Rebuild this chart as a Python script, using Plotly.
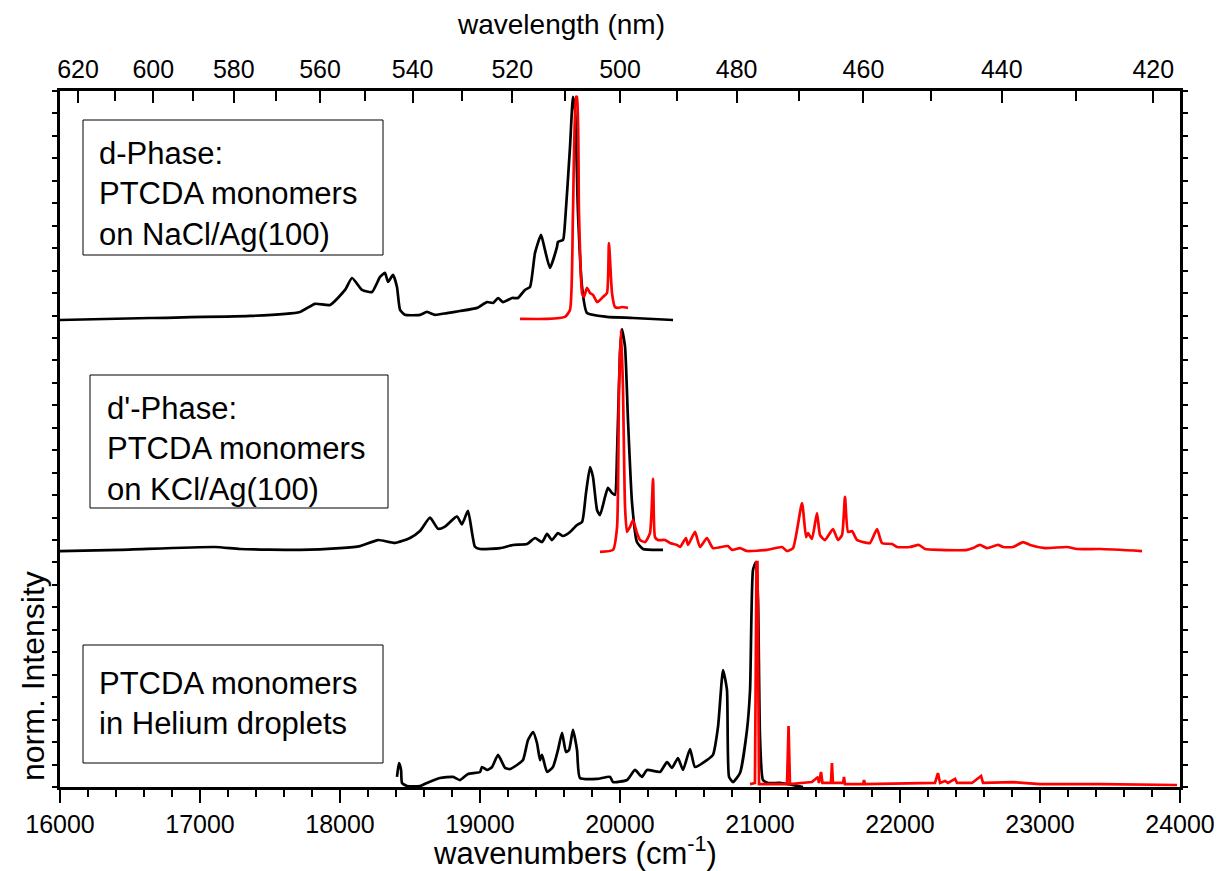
import plotly.graph_objects as go

# ---------------- data (wavenumbers in cm^-1, normalized intensity) ----------------
# d-Phase: PTCDA monomers on NaCl/Ag(100)
d_black_x = [16000, 16643, 17357, 17714, 17821, 17929, 18036, 18086, 18157, 18229, 18286, 18321, 18343,
             18379, 18407, 18429, 18464, 18571, 18621, 18679, 18764, 18857, 18979, 19050, 19093, 19129,
             19164, 19229, 19271, 19321, 19357, 19393, 19436, 19464, 19500, 19550, 19557, 19593, 19607,
             19643, 19664, 19679, 19700, 19729, 19764, 19907, 20093, 20379]
d_black_y = [0.010, 0.019, 0.028, 0.046, 0.082, 0.077, 0.144, 0.197, 0.144, 0.135, 0.202, 0.220, 0.180,
             0.211, 0.157, 0.055, 0.033, 0.033, 0.046, 0.033, 0.041, 0.050, 0.064, 0.090, 0.086, 0.108,
             0.090, 0.108, 0.108, 0.144, 0.157, 0.309, 0.389, 0.322, 0.242, 0.336, 0.358, 0.367, 0.442,
             0.781, 1.004, 0.946, 0.487, 0.157, 0.041, 0.024, 0.019, 0.010]
d_red_x = [19286, 19479, 19607, 19643, 19664, 19686, 19693, 19707, 19729, 19743, 19764, 19786, 19807,
           19836, 19857, 19879, 19907, 19921, 19943, 19964, 19986, 20014, 20057]
d_red_y = [0.015, 0.015, 0.024, 0.055, 0.487, 1.004, 1.004, 0.487, 0.130, 0.113, 0.153, 0.130, 0.122,
           0.090, 0.099, 0.113, 0.130, 0.353, 0.130, 0.068, 0.064, 0.068, 0.064]

# d'-Phase: PTCDA monomers on KCl/Ag(100)
dp_black_x = [16000, 16429, 17107, 17286, 17714, 18000, 18143, 18271, 18393, 18500, 18571, 18643, 18700,
              18750, 18836, 18871, 18914, 18964, 19000, 19143, 19236, 19336, 19393, 19443, 19479, 19514,
              19557, 19593, 19643, 19693, 19729, 19757, 19786, 19807, 19836, 19857, 19893, 19914, 19943,
              19964, 19979, 20000, 20014, 20036, 20057, 20086, 20121, 20164, 20307]
dp_black_y = [0.011, 0.016, 0.029, 0.020, 0.016, 0.024, 0.033, 0.060, 0.047, 0.069, 0.100, 0.160, 0.110,
              0.120, 0.165, 0.130, 0.190, 0.030, 0.020, 0.024, 0.038, 0.042, 0.069, 0.051, 0.087, 0.060,
              0.091, 0.078, 0.096, 0.127, 0.140, 0.269, 0.385, 0.341, 0.194, 0.171, 0.252, 0.292, 0.269,
              0.261, 0.448, 0.893, 1.000, 0.920, 0.595, 0.225, 0.051, 0.020, 0.016]
dp_red_x = [19857, 19950, 19979, 19993, 20007, 20021, 20036, 20050, 20071, 20093, 20121, 20143, 20179,
            20214, 20236, 20250, 20271, 20321, 20357, 20407, 20429, 20471, 20486, 20536, 20571, 20621,
            20664, 20771, 20800, 20857, 20907, 21050, 21157, 21193, 21236, 21300, 21329, 21343, 21371,
            21407, 21429, 21464, 21521, 21557, 21586, 21607, 21629, 21657, 21693, 21736, 21786, 21836,
            21871, 21943, 21979, 22071, 22136, 22179, 22286, 22479, 22521, 22571, 22621, 22700, 22736,
            22807, 22879, 22929, 23036, 23193, 23264, 23429, 23729]
dp_red_y = [0.007, 0.016, 0.118, 0.742, 0.996, 0.742, 0.207, 0.096, 0.118, 0.149, 0.091, 0.060, 0.051,
            0.091, 0.332, 0.073, 0.060, 0.060, 0.047, 0.038, 0.029, 0.069, 0.038, 0.096, 0.029, 0.069,
            0.024, 0.033, 0.016, 0.024, 0.011, 0.016, 0.029, 0.011, 0.024, 0.225, 0.073, 0.091, 0.065,
            0.180, 0.082, 0.060, 0.109, 0.060, 0.082, 0.252, 0.096, 0.100, 0.060, 0.051, 0.047, 0.109,
            0.047, 0.042, 0.029, 0.029, 0.038, 0.020, 0.016, 0.016, 0.024, 0.038, 0.024, 0.038, 0.029,
            0.029, 0.051, 0.038, 0.024, 0.029, 0.020, 0.020, 0.011]

# PTCDA monomers in Helium droplets
he_black_x = [18407, 18421, 18436, 18443, 18479, 18571, 18621, 18714, 18807, 18857, 18914, 19000, 19014,
              19050, 19086, 19129, 19179, 19214, 19264, 19307, 19343, 19379, 19407, 19429, 19443, 19479,
              19521, 19557, 19586, 19614, 19636, 19664, 19693, 19714, 19836, 19929, 19950, 20050, 20107,
              20157, 20193, 20286, 20336, 20371, 20414, 20450, 20500, 20536, 20621, 20664, 20700, 20736,
              20764, 20779, 20807, 20857, 20907, 20929, 20950, 20971, 20986, 21000, 21021, 21057, 21143,
              21307]
he_black_y = [0.045, 0.107, 0.076, 0.018, 0.004, 0.004, 0.018, 0.040, 0.045, 0.031, 0.058, 0.067, 0.089,
              0.076, 0.089, 0.143, 0.085, 0.080, 0.098, 0.120, 0.209, 0.245, 0.196, 0.120, 0.143, 0.067,
              0.089, 0.165, 0.241, 0.156, 0.165, 0.254, 0.165, 0.040, 0.036, 0.045, 0.022, 0.031, 0.076,
              0.045, 0.076, 0.067, 0.111, 0.085, 0.129, 0.076, 0.169, 0.089, 0.120, 0.143, 0.267, 0.521,
              0.432, 0.045, 0.022, 0.062, 0.254, 0.432, 0.967, 1.002, 0.833, 0.223, 0.031, 0.018, 0.018,
              0.000]
he_red_x = [20929, 20964, 20975, 20982, 20993, 21193, 21204, 21214, 21371, 21414, 21421, 21436, 21446,
            21507, 21514, 21521, 21593, 21600, 21607, 21736, 21743, 21750, 22250, 22271, 22286, 22321,
            22343, 22393, 22407, 22514, 22579, 22593, 22807, 23000, 23429, 23979]
he_red_y = [0.013, 0.018, 1.002, 1.002, 0.013, 0.013, 0.272, 0.013, 0.022, 0.045, 0.018, 0.067, 0.018,
            0.018, 0.107, 0.018, 0.018, 0.045, 0.013, 0.013, 0.031, 0.013, 0.018, 0.062, 0.018, 0.027,
            0.018, 0.036, 0.018, 0.018, 0.049, 0.018, 0.022, 0.013, 0.013, 0.009]

# vertical offsets of the stacked spectra
offset_he, offset_dp, offset_d = 0.0, 1.04, 2.07

# top-axis wavelength ticks (nm)
wl_major = [620, 600, 580, 560, 540, 520, 500, 480, 460, 440, 420]
wl_minor = [610, 590, 570, 550, 530, 510, 490, 470, 450, 430]

box_texts = ["d-Phase:<br>PTCDA monomers<br>on NaCl/Ag(100)",
             "d'-Phase:<br>PTCDA monomers<br>on KCl/Ag(100)",
             "PTCDA monomers<br>in Helium droplets"]

# ---------------- figure ----------------
FONT = "Arial, Liberation Sans, sans-serif"
W, H = 1225, 871
L, T, R, B = 60, 91, 45, 84
PW, PH = W - L - R, H - T - B


def px(x):  # page pixel x -> paper
    return (x - L) / PW


def py(y):  # page pixel y -> paper
    return (H - B - y) / PH


fig = go.Figure()


def add(xs, ys, off, color, smooth=True):
    line = dict(color=color, width=2.7)
    if smooth:
        line.update(shape="spline", smoothing=0.5)
    fig.add_trace(go.Scatter(x=xs, y=[v + off for v in ys], mode="lines", line=line,
                             showlegend=False, hoverinfo="skip"))


add(d_black_x, d_black_y, offset_d, "black")
add(d_red_x, d_red_y, offset_d, "#ff0000")
add(dp_black_x, dp_black_y, offset_dp, "black")
add(dp_red_x, dp_red_y, offset_dp, "#ff0000")
add(he_black_x, he_black_y, offset_he, "black")
add(he_red_x, he_red_y, offset_he, "#ff0000", smooth=False)

# dummy trace so the top axis is drawn
fig.add_trace(go.Scatter(x=[16000, 24000], y=[None, None], xaxis="x2", mode="lines",
                         showlegend=False, hoverinfo="skip"))

fig.update_layout(
    width=W, height=H,
    margin=dict(l=L, r=R, t=T, b=B, autoexpand=False),
    paper_bgcolor="white", plot_bgcolor="white",
    font=dict(family=FONT, color="black"),
    xaxis=dict(range=[16000, 24000], showline=True, linecolor="black", linewidth=2.5, automargin=False,
               ticks="outside", ticklen=13, tickwidth=2, tickcolor="black", tickformat="d",
               dtick=1000, tick0=16000, tickfont=dict(size=25), showgrid=False, zeroline=False,
               minor=dict(ticks="outside", dtick=200, ticklen=7, tickwidth=2, tickcolor="black"),
               mirror=False),
    xaxis2=dict(range=[16000, 24000], overlaying="x", side="top", showline=True, linecolor="black",
                linewidth=2.5, ticks="inside", ticklen=12, tickwidth=2, tickcolor="black", automargin=False,
                tickmode="array", tickvals=[1e7 / w for w in wl_major], ticktext=[str(w) for w in wl_major],
                tickfont=dict(size=25), showgrid=False, zeroline=False,
                minor=dict(ticks="inside", tickvals=[1e7 / w for w in wl_minor], ticklen=10,
                           tickwidth=2, tickcolor="black")),
    yaxis=dict(range=[0, 3.1], showline=True, linecolor="black", linewidth=2.5, mirror="ticks",
               ticks="outside", ticklen=5, tickwidth=1.5, tickcolor="black", dtick=0.1, tick0=0,
               automargin=False, showticklabels=False, showgrid=False, zeroline=False),
)

# text boxes (page pixel positions)
boxes = [(83, 120, 383, 255), (90, 375, 388, 508), (83, 645, 383, 763)]
text_pos = [(97, 194), (105, 449), (97, 703)]
for (x0, y0, x1, y1), (tx, ty), txt in zip(boxes, text_pos, box_texts):
    fig.add_shape(type="rect", xref="paper", yref="paper", x0=px(x0), x1=px(x1), y0=py(y1), y1=py(y0),
                  line=dict(color="black", width=1), fillcolor="white", layer="below")
    fig.add_annotation(xref="paper", yref="paper", x=px(tx), y=py(ty), xanchor="left", yanchor="middle",
                       text=txt, showarrow=False, align="left", font=dict(size=31, family=FONT))

# axis titles
fig.add_annotation(xref="paper", yref="paper", x=px(575), y=py(851), text="wavenumbers (cm<sup>-1</sup>)",
                   showarrow=False, font=dict(size=31, family=FONT), xanchor="center", yanchor="middle")
fig.add_annotation(xref="paper", yref="paper", x=px(561), y=py(25), text="wavelength (nm)",
                   showarrow=False, font=dict(size=28, family=FONT), xanchor="center", yanchor="middle")
fig.add_annotation(xref="paper", yref="paper", x=px(33), y=py(676), text="norm. Intensity", textangle=-90,
                   showarrow=False, font=dict(size=32, family=FONT), xanchor="center", yanchor="middle")

fig.write_html("out.html", config={"displayModeBar": False},
               post_script="document.body.style.margin='0';document.body.style.overflow='hidden';")
